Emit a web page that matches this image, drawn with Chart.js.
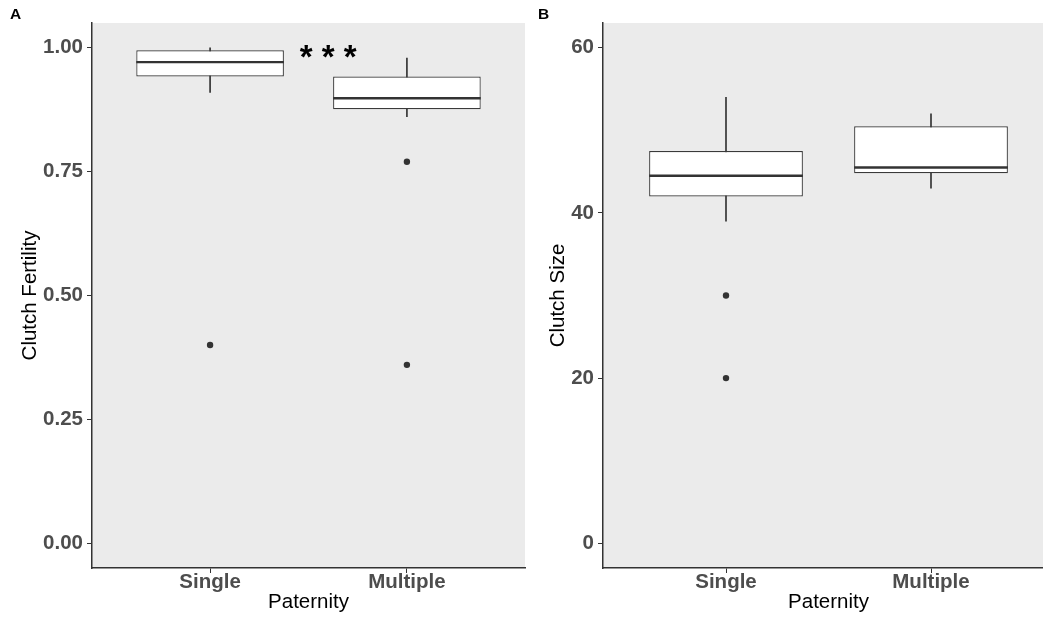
<!DOCTYPE html>
<html><head><meta charset="utf-8">
<script src="https://cdn.jsdelivr.net/npm/chart.js@4"></script>
<style>
html,body{margin:0;padding:0;background:#fff;overflow:hidden;width:1043px;height:619px}
#a{position:absolute;left:0;top:0}
#b{position:absolute;left:525px;top:0}
</style></head><body>
<canvas id="a" width="529" height="619"></canvas>
<canvas id="b" width="533" height="619"></canvas>
<script>
// ---- data ----
const categories = ['Single', 'Multiple'];

const fertilityMin    = [0.910, 0.861];
const fertilityQ1     = [0.942, 0.876];
const fertilityMedian = [0.971, 0.898];
const fertilityQ3     = [0.995, 0.942];
const fertilityMax    = [1.000, 0.979];
const fertilityOutliers = [[0.40], [0.77, 0.36]];
const fertilityTicks = [0, 0.25, 0.5, 0.75, 1.0];
const fertilityTickLabels = ['0.00', '0.25', '0.50', '0.75', '1.00'];

const sizeMin    = [39.0, 43.0];
const sizeQ1     = [42.0, 44.8];
const sizeMedian = [44.5, 45.5];
const sizeQ3     = [47.5, 50.5];
const sizeMax    = [54.0, 52.0];
const sizeOutliers = [[30, 20], []];
const sizeTicks = [0, 20, 40, 60];
const sizeTickLabels = ['0', '20', '40', '60'];

// ---- styling ----
const FONT = "'Liberation Sans', Arial, Helvetica, sans-serif";
const INK = '#333333';

function boxChart(canvas, p) {
  const xs = categories.map((c, i) => i + 1);
  const outlierPts = [];
  p.outliers.forEach((arr, i) => arr.forEach(v => outlierPts.push({x: i + 1, y: v})));

  const plugins = [{
    id: 'panelBg',
    beforeDraw(chart) {
      const a = chart.chartArea, ctx = chart.ctx;
      ctx.save(); ctx.fillStyle = '#EBEBEB';
      ctx.fillRect(a.left, a.top, a.right - a.left, a.bottom - a.top);
      ctx.restore();
    }
  }, {
    id: 'medians',
    afterDatasetsDraw(chart) {
      const x = chart.scales.x, y = chart.scales.y, ctx = chart.ctx;
      const half = 0.375 * (x.getPixelForValue(2) - x.getPixelForValue(1));
      ctx.save(); ctx.strokeStyle = INK; ctx.lineWidth = 2.4;
      p.median.forEach((m, i) => {
        const cx = x.getPixelForValue(i + 1), cy = y.getPixelForValue(m);
        ctx.beginPath(); ctx.moveTo(cx - half, cy); ctx.lineTo(cx + half, cy); ctx.stroke();
      });
      ctx.restore();
    }
  }, {
    id: 'labels',
    afterDraw(chart) {
      const ctx = chart.ctx;
      ctx.save();
      ctx.fillStyle = '#000'; ctx.textBaseline = 'middle'; ctx.textAlign = 'left';
      ctx.font = 'bold 15.5px ' + FONT;
      ctx.fillText(p.panel, p.panelX, 14.5);
      if (p.stars) {
        const x = chart.scales.x, y = chart.scales.y;
        ctx.textAlign = 'center';
        ctx.font = 'bold 33px ' + FONT;
        ctx.fillText(p.stars.text, x.getPixelForValue(p.stars.x), y.getPixelForValue(p.stars.y));
      }
      ctx.restore();
    }
  }];

  return new Chart(canvas, {
    type: 'scatter',
    data: {
      datasets: [
        { type: 'bar', data: xs.map((x, i) => ({x, y: [p.min[i], p.max[i]]})),
          backgroundColor: INK, borderWidth: 0, barThickness: 1, grouped: false, order: 3 },
        { type: 'bar', data: xs.map((x, i) => ({x, y: [p.q1[i], p.q3[i]]})),
          backgroundColor: '#FFFFFF', borderColor: '#3a3a3a', borderWidth: 1.2, borderSkipped: false,
          categoryPercentage: 1, barPercentage: 0.75, grouped: false, order: 2 },
        { type: 'scatter', data: outlierPts, pointRadius: 3.2, pointBackgroundColor: INK,
          pointBorderWidth: 0, order: 1 }
      ]
    },
    options: {
      responsive: false, animation: false, events: [],
      layout: { padding: { top: 23, right: 0, left: 0, bottom: 0 } },
      plugins: { legend: { display: false }, tooltip: { enabled: false } },
      scales: {
        x: {
          type: 'linear', min: 0.4, max: 2.6, offset: false,
          afterBuildTicks: s => { s.ticks = xs.map(v => ({value: v})); },
          afterFit: s => { s.height = 51; },
          ticks: { callback: (v, i) => categories[i], autoSkip: false, maxRotation: 0,
                   font: { family: FONT, size: 20.5, weight: 'bold', lineHeight: 1.2 },
                   color: '#4D4D4D', padding: -3 },
          grid: { drawOnChartArea: false, tickLength: 5, color: INK, offset: false },
          border: { display: true, color: INK, width: 1.5 },
          title: { display: true, text: 'Paternity', color: '#000',
                   font: { family: FONT, size: 20.5, lineHeight: 1.2 }, padding: { top: 0, bottom: 4 } }
        },
        y: {
          type: 'linear', min: p.yMin, max: p.yMax,
          afterBuildTicks: s => { s.ticks = p.ticks.map(v => ({value: v})); },
          afterFit: s => { s.width = p.yWidth; },
          ticks: { callback: (v, i) => p.tickLabels[i], autoSkip: false,
                   font: { family: FONT, size: 20.5, weight: 'bold', lineHeight: 1.2 },
                   color: '#4D4D4D', padding: 4 },
          grid: { drawOnChartArea: false, tickLength: 5, color: INK },
          border: { display: true, color: INK, width: 1.5 },
          title: { display: true, text: p.yTitle, color: '#000',
                   font: { family: FONT, size: 20.5, lineHeight: 1.2 }, padding: { top: p.titlePad, bottom: 0 } }
        }
      }
    },
    plugins
  });
}

boxChart(document.getElementById('a'), {
  min: fertilityMin, q1: fertilityQ1, median: fertilityMedian, q3: fertilityQ3, max: fertilityMax,
  outliers: fertilityOutliers, ticks: fertilityTicks, tickLabels: fertilityTickLabels,
  yMin: -0.05, yMax: 1.05, yWidth: 92, titlePad: 17.7, yTitle: 'Clutch Fertility',
  panel: 'A', panelX: 10, stars: { text: '* * *', x: 1.6, y: 0.977 }
});
boxChart(document.getElementById('b'), {
  min: sizeMin, q1: sizeQ1, median: sizeMedian, q3: sizeQ3, max: sizeMax,
  outliers: sizeOutliers, ticks: sizeTicks, tickLabels: sizeTickLabels,
  yMin: -3, yMax: 63, yWidth: 78, titlePad: 21, yTitle: 'Clutch Size',
  panel: 'B', panelX: 13, stars: null
});
</script>
</body></html>
